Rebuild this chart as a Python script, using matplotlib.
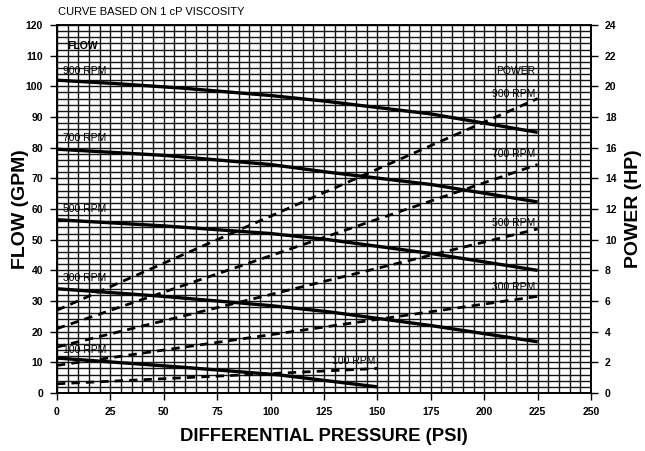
import matplotlib
matplotlib.use("Agg")
import matplotlib.pyplot as plt
import numpy as np

plt.rcParams['font.family'] = ['Liberation Sans', 'DejaVu Sans']

# Flow curves (GPM) vs differential pressure (PSI)
flow_psi_900 = [0, 25, 59, 100, 125, 175, 225]
flow_900 = [102, 101, 99.4, 97, 95.2, 91, 85]
flow_psi_700 = [0, 50, 100, 127, 175, 225]
flow_700 = [79.5, 77.5, 74.5, 72, 68, 62.3]
flow_psi_500 = [0, 50, 100, 127, 175, 225]
flow_500 = [56.5, 54.5, 52, 50, 45.5, 40]
flow_psi_300 = [0, 50, 100, 127, 175, 225]
flow_300 = [34, 31.5, 28.5, 26.5, 22, 16.7]
flow_psi_100 = [0, 57, 104, 150]
flow_100 = [11.4, 8.5, 5.9, 2.0]

# Power curves (HP) vs differential pressure (PSI)
power_psi = [0, 225]
power_900 = [5.4, 19.2]
power_700 = [4.2, 14.9]
power_500 = [3.0, 10.7]
power_300 = [1.8, 6.3]
power_psi_100 = [0, 150]
power_100 = [0.6, 1.6]

x_ticks = [0, 25, 50, 75, 100, 125, 150, 175, 200, 225, 250]
flow_ticks = [0, 10, 20, 30, 40, 50, 60, 70, 80, 90, 100, 110, 120]
power_ticks = [0, 2, 4, 6, 8, 10, 12, 14, 16, 18, 20, 22, 24]

fig = plt.figure(figsize=(6.45, 4.51), dpi=100)
ax = fig.add_axes([57/645, 1-393/451, (591-57)/645, (393-25)/451])
ax2 = ax.twinx()

ax.set_xlim(0, 250)
ax.set_ylim(0, 120)
ax2.set_ylim(0, 24)

# dense grid
ax.set_xticks(np.arange(0, 251, 5), minor=True)
ax.set_yticks(np.arange(0, 121, 2), minor=True)
ax.grid(which='both', color='#141414', linewidth=1.0)
ax.set_axisbelow(True)
ax.tick_params(which='minor', length=0)

ax.set_xticks(x_ticks)
ax.set_yticks(flow_ticks)
ax2.set_yticks(power_ticks)

tick_font = dict(fontsize=7.5, fontweight='bold')
ax.set_xticklabels([str(v) for v in x_ticks], **tick_font)
ax.set_yticklabels([str(v) for v in flow_ticks], **tick_font)
ax2.set_yticklabels([str(v) for v in power_ticks], **tick_font)
ax.tick_params(which='major', length=5, width=1, direction='out', pad=5, color='black')
ax2.tick_params(which='major', length=5, width=1, direction='out', pad=5, color='black')

for a in (ax, ax2):
    for s in a.spines.values():
        s.set_linewidth(1.2)
        s.set_color('black')

# flow curves
lw = 2.4
for xs, ys in [(flow_psi_900, flow_900), (flow_psi_700, flow_700), (flow_psi_500, flow_500),
               (flow_psi_300, flow_300), (flow_psi_100, flow_100)]:
    ax.plot(xs, ys, color='black', linewidth=lw, solid_capstyle='butt')

# power curves
for xs, ys in [(power_psi, power_900), (power_psi, power_700), (power_psi, power_500),
               (power_psi, power_300), (power_psi_100, power_100)]:
    ax2.plot(xs, ys, color='black', linewidth=2.0, linestyle=(0, (3, 2.2)))

lab = dict(fontsize=7.5, color='black')
ax.text(5, 113, 'FLOW', fontweight='bold', **lab, va='center')
ax.text(3, 105, '900 RPM', **lab, va='center')
ax.text(3, 83, '700 RPM', **lab, va='center')
ax.text(3, 60, '500 RPM', **lab, va='center')
ax.text(3, 37.5, '300 RPM', **lab, va='center')
ax.text(3, 14, '100 RPM', **lab, va='center')

ax2.text(224, 21, 'POWER', ha='right', va='center', **lab)
ax2.text(224, 19.5, '900 RPM', ha='right', va='center', **lab)
ax2.text(224, 15.6, '700 RPM', ha='right', va='center', **lab)
ax2.text(224, 11.1, '500 RPM', ha='right', va='center', **lab)
ax2.text(224, 6.9, '300 RPM', ha='right', va='center', **lab)
ax2.text(149, 2.1, '100 RPM', ha='right', va='center', **lab)

ax.set_xlabel('DIFFERENTIAL PRESSURE (PSI)', fontsize=13.3, fontweight='bold', labelpad=8)
ax.set_ylabel('FLOW (GPM)', fontsize=14, fontweight='bold', labelpad=-2.5)
ax2.set_ylabel('POWER (HP)', fontsize=14, fontweight='bold', labelpad=6)

fig.text(58/645, 1-12/451, 'CURVE BASED ON 1 cP VISCOSITY', fontsize=8, va='center', ha='left')

fig.savefig('out.png', dpi=100)
